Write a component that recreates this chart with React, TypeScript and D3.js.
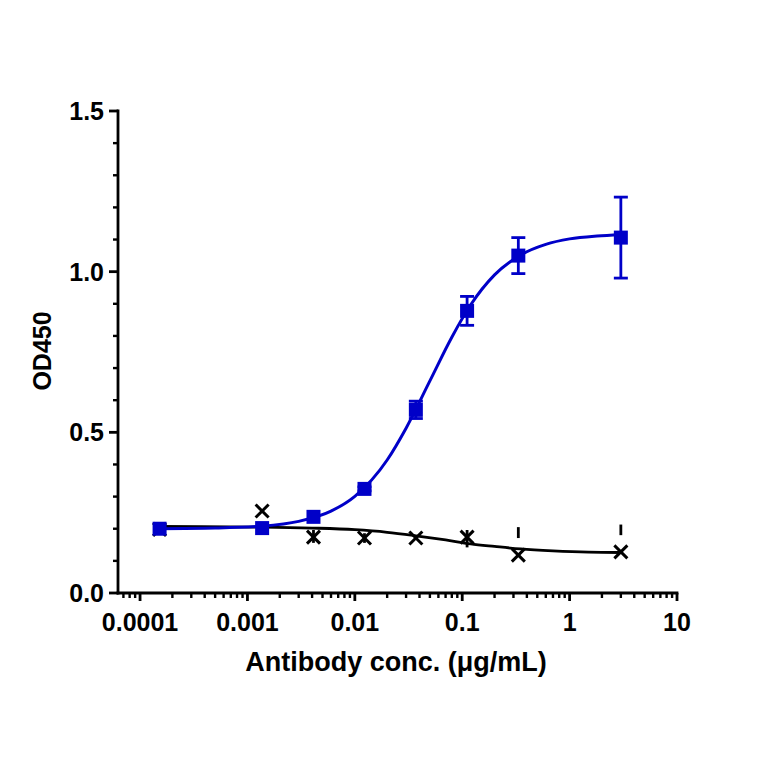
import React from "react";
import * as d3 from "d3";

// ---- data ----
const concentrations = [0.000152, 0.00137, 0.00412, 0.0123, 0.037, 0.111, 0.333, 3];

const blueMeans = [0.2, 0.202, 0.237, 0.324, 0.57, 0.878, 1.05, 1.106];
const blueSD = [0, 0, 0, 0.006, 0.027, 0.045, 0.056, 0.126];

const blackMeans = [0.198, 0.255, 0.174, 0.171, 0.171, 0.174, 0.118, 0.128];
const blackBarTop: (number | null)[] = [null, null, 0.196, 0.186, null, 0.196, 0.205, 0.213];
const blackBarBottom: (number | null)[] = [null, null, 0.156, 0.156, null, 0.142, 0.171, 0.18];

// fitted curves
const blueCurveX = [0.000152, 0.0005, 0.00137, 0.003, 0.006, 0.01, 0.02, 0.03, 0.05, 0.08, 0.12, 0.2, 0.35, 0.6, 1, 1.8, 3];
const blueCurveY = [0.2, 0.202, 0.208, 0.223, 0.255, 0.301, 0.414, 0.513, 0.66, 0.796, 0.897, 0.99, 1.052, 1.085, 1.102, 1.111, 1.115];

const blackCurveX = [0.000152, 0.00137, 0.004, 0.01, 0.02, 0.037, 0.07, 0.12, 0.2, 0.35, 0.7, 1.5, 3];
const blackCurveY = [0.207, 0.205, 0.202, 0.197, 0.189, 0.178, 0.165, 0.153, 0.145, 0.137, 0.131, 0.127, 0.126];

const xMajorTicks = [0.0001, 0.001, 0.01, 0.1, 1, 10];
const xTickLabels = ["0.0001", "0.001", "0.01", "0.1", "1", "10"];
const yMajorTicks = [0, 0.5, 1.0, 1.5];
const yTickLabels = ["0.0", "0.5", "1.0", "1.5"];
const yMinorTicks = [0.1, 0.2, 0.3, 0.4, 0.6, 0.7, 0.8, 0.9, 1.1, 1.2, 1.3, 1.4];

const xTitle = "Antibody conc. (\u03bcg/mL)";
const yTitle = "OD450";

const BLUE = "#0000c8";
const FONT = "'Liberation Sans', Arial, sans-serif";

export default function App() {
  const W = 764;
  const H = 764;
  const x = d3.scaleLog().domain([0.000061, 10]).range([117, 677]);
  const y = d3.scaleLinear().domain([0, 1.5]).range([593, 111]);

  // minor x ticks 2..9 of each decade inside the domain
  const xMinor: number[] = [];
  for (let e = -5; e <= 0; e++) {
    for (let m = 2; m <= 9; m++) {
      const v = m * Math.pow(10, e);
      if (v >= 0.000061 && v <= 10) xMinor.push(v);
    }
  }

  const line = d3
    .line<[number, number]>()
    .x((d) => x(d[0]))
    .y((d) => y(d[1]))
    .curve(d3.curveMonotoneX);

  const bluePath = line(blueCurveX.map((c, i) => [c, blueCurveY[i]] as [number, number])) || "";
  const blackPath = line(blackCurveX.map((c, i) => [c, blackCurveY[i]] as [number, number])) || "";

  const sq = 14;
  const xs = 6.5;
  const cap = 7;
  const axisY = y(0);
  const axisX = 118;

  return (
    <svg
      width={W}
      height={H}
      style={{ position: "absolute", left: 0, top: 0, background: "#fff" }}
      fontFamily={FONT}
    >
      <rect x={0} y={0} width={W} height={H} fill="#fff" />

      {/* curves */}
      <path d={blackPath} fill="none" stroke="#000" strokeWidth={2.8} />
      <path d={bluePath} fill="none" stroke={BLUE} strokeWidth={3} />

      {/* black error bars and markers */}
      {concentrations.map((c, i) => {
        const cx = x(c);
        const cy = y(blackMeans[i]);
        const t = blackBarTop[i];
        const b = blackBarBottom[i];
        return (
          <g key={"k" + i}>
            {t !== null && b !== null && (
              <line x1={cx} x2={cx} y1={y(t)} y2={y(b)} stroke="#000" strokeWidth={2.8} />
            )}
            <line x1={cx - xs} y1={cy - xs} x2={cx + xs} y2={cy + xs} stroke="#000" strokeWidth={3} />
            <line x1={cx - xs} y1={cy + xs} x2={cx + xs} y2={cy - xs} stroke="#000" strokeWidth={3} />
          </g>
        );
      })}

      {/* blue error bars and squares */}
      {concentrations.map((c, i) => {
        const cx = x(c);
        const cy = y(blueMeans[i]);
        const sd = blueSD[i];
        return (
          <g key={"b" + i}>
            {sd > 0 && (
              <g stroke={BLUE} strokeWidth={2.8}>
                <line x1={cx} x2={cx} y1={y(blueMeans[i] + sd)} y2={y(blueMeans[i] - sd)} />
                <line x1={cx - cap} x2={cx + cap} y1={y(blueMeans[i] + sd)} y2={y(blueMeans[i] + sd)} />
                <line x1={cx - cap} x2={cx + cap} y1={y(blueMeans[i] - sd)} y2={y(blueMeans[i] - sd)} />
              </g>
            )}
            <rect x={cx - sq / 2} y={cy - sq / 2} width={sq} height={sq} fill={BLUE} />
          </g>
        );
      })}

      {/* y axis */}
      <line x1={axisX} x2={axisX} y1={y(1.5) - 1.4} y2={axisY + 1.4} stroke="#000" strokeWidth={2.8} />
      {yMajorTicks.map((v, i) => (
        <g key={"ym" + i}>
          <line x1={axisX - 9} x2={axisX} y1={y(v)} y2={y(v)} stroke="#000" strokeWidth={2.8} />
          <text x={104} y={y(v) + 9} textAnchor="end" fontSize={25} fontWeight="bold" fill="#000">
            {yTickLabels[i]}
          </text>
        </g>
      ))}
      {yMinorTicks.map((v, i) => (
        <line key={"yn" + i} x1={axisX - 5} x2={axisX} y1={y(v)} y2={y(v)} stroke="#000" strokeWidth={2.4} />
      ))}

      {/* x axis */}
      <line x1={axisX - 1.4} x2={x(10) + 1.4} y1={axisY} y2={axisY} stroke="#000" strokeWidth={2.8} />
      {xMajorTicks.map((v, i) => (
        <g key={"xm" + i}>
          <line x1={x(v)} x2={x(v)} y1={axisY} y2={axisY + 8} stroke="#000" strokeWidth={2.8} />
          <text x={x(v)} y={631} textAnchor="middle" fontSize={25} fontWeight="bold" fill="#000">
            {xTickLabels[i]}
          </text>
        </g>
      ))}
      {xMinor.map((v, i) => (
        <line key={"xn" + i} x1={x(v)} x2={x(v)} y1={axisY} y2={axisY + 5} stroke="#000" strokeWidth={2.4} />
      ))}

      {/* titles */}
      <text x={396} y={671} textAnchor="middle" fontSize={27} fontWeight="bold" fill="#000">
        {xTitle}
      </text>
      <text
        transform={`translate(51,351) rotate(-90)`}
        textAnchor="middle"
        fontSize={25}
        fontWeight="bold"
        fill="#000"
      >
        {yTitle}
      </text>
    </svg>
  );
}
